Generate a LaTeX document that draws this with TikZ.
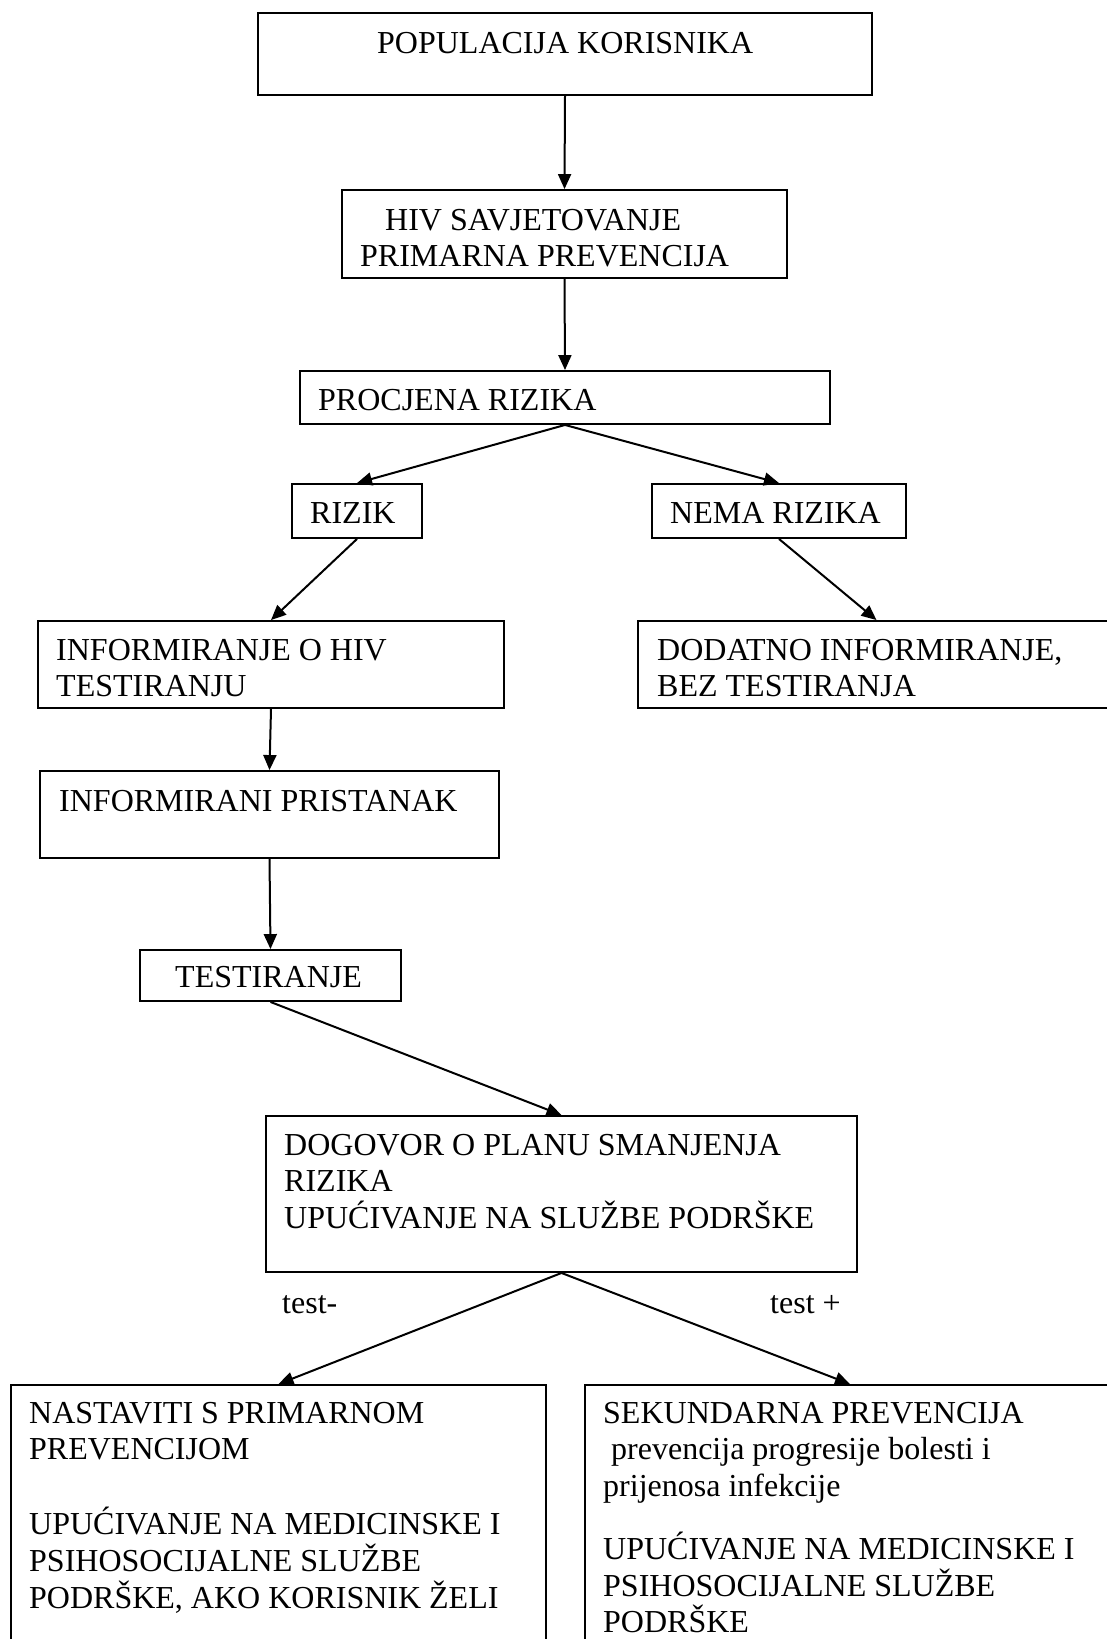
\documentclass[tikz,border=0pt]{standalone}
\usepackage{fontspec}
\setmainfont{Liberation Serif}
\usetikzlibrary{arrows.meta}
\tikzset{
  box/.style={draw=black, line width=1.9pt, rectangle, inner sep=0pt, fill=none},
  txt/.style={anchor=north west, inner sep=0pt, align=left, font=\fontsize{32}{36.7}\selectfont},
  conn/.style={line width=2pt, -{Triangle[length=15pt,width=13pt]}}
}
\begin{document}
\begin{tikzpicture}[x=1pt,y=-1pt]
\useasboundingbox (0,0) rectangle (1107,1639);
% boxes (center, size)
\node[box, minimum width=614pt, minimum height=82pt]  (b1)  at (565,54) {};
\node[box, minimum width=445pt, minimum height=88pt]  (b2)  at (564.5,234) {};
\node[box, minimum width=530pt, minimum height=53pt]  (b3)  at (565,397.5) {};
\node[box, minimum width=130pt, minimum height=54pt]  (b4)  at (357,511) {};
\node[box, minimum width=254pt, minimum height=54pt]  (b5)  at (779,511) {};
\node[box, minimum width=466pt, minimum height=87pt]  (b6)  at (271,664.5) {};
\node[box, minimum width=477pt, minimum height=87pt]  (b7)  at (876.5,664.5) {};
\node[box, minimum width=459pt, minimum height=87pt]  (b8)  at (269.5,814.5) {};
\node[box, minimum width=261pt, minimum height=51pt]  (b9)  at (270.5,975.5) {};
\node[box, minimum width=591pt, minimum height=156pt] (b10) at (561.5,1194) {};
\node[box, minimum width=535pt, minimum height=270pt] (b11) at (278.5,1520) {};
\node[box, minimum width=530pt, minimum height=270pt] (b12) at (850,1520) {};
% texts (first baseline minus strut height 25.69)
\node[txt] (t1)  at (377,27.3)  {\strut POPULACIJA KORISNIKA};
\node[txt] (t2)  at (360,204.3) {\strut\hspace*{25pt}HIV SAVJETOVANJE\\PRIMARNA PREVENCIJA};
\node[txt] (t3)  at (318,384.3) {\strut PROCJENA RIZIKA};
\node[txt] (t4)  at (310,497.3) {\strut RIZIK};
\node[txt] (t5)  at (670,497.3) {\strut NEMA RIZIKA};
\node[txt] (t6)  at (56,634.3)  {\strut INFORMIRANJE O HIV\\TESTIRANJU};
\node[txt] (t7)  at (657,634.3) {\strut DODATNO INFORMIRANJE,\\BEZ TESTIRANJA};
\node[txt] (t8)  at (59,785.3)  {\strut INFORMIRANI PRISTANAK};
\node[txt] (t9)  at (175,961.3) {\strut TESTIRANJE};
\node[txt] (t10) at (284,1129.3) {\strut DOGOVOR O PLANU SMANJENJA\\RIZIKA\\UPUĆIVANJE NA SLUŽBE PODRŠKE};
\node[txt] (t11) at (29,1397.3) {\strut NASTAVITI S PRIMARNOM\\PREVENCIJOM\\[38pt]UPUĆIVANJE NA MEDICINSKE I\\PSIHOSOCIJALNE SLUŽBE\\PODRŠKE, AKO KORISNIK ŽELI};
\node[txt] (t12) at (603,1397.3) {\strut SEKUNDARNA PREVENCIJA\\\hspace*{8pt}prevencija progresije bolesti i\\prijenosa infekcije\\[26pt]UPUĆIVANJE NA MEDICINSKE I\\PSIHOSOCIJALNE SLUŽBE\\PODRŠKE};
\node[txt] (l1) at (282,1287.3) {\strut test-};
\node[txt] (l2) at (770,1287.3) {\strut test +};
% connectors
\draw[conn] (b1.south) -- (b2.north);
\draw[conn] (b2.south) -- (b3.north);
\draw[conn] (b3.south) -- (b4.north);
\draw[conn] (b3.south) -- (b5.north);
\draw[conn] (b4.south) -- (b6.north);
\draw[conn] (b5.south) -- (b7.north);
\draw[conn] (b6.south) -- (b8.north);
\draw[conn] (b8.south) -- (b9.north);
\draw[conn] (b9.south) -- (b10.north);
\draw[conn] (b10.south) -- (b11.north);
\draw[conn] (b10.south) -- (b12.north);
\end{tikzpicture}
\end{document}
